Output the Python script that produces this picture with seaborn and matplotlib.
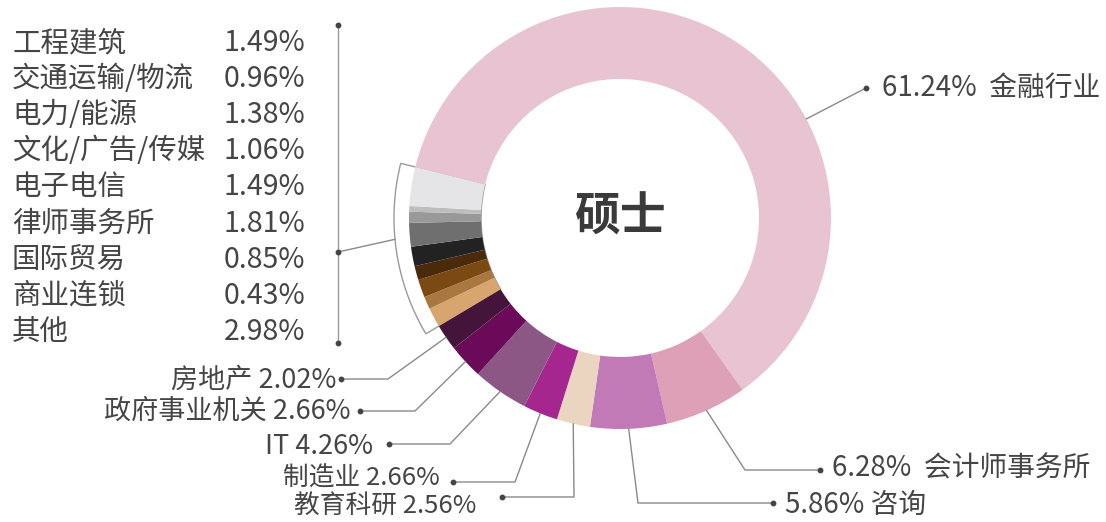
import numpy as np
import pandas as pd
import matplotlib
matplotlib.use("Agg")
import matplotlib.pyplot as plt
from matplotlib.patches import Wedge
import seaborn as sns

# ---------------- data ----------------
main_names = ["金融行业", "会计师事务所", "咨询", "教育科研", "制造业", "IT", "政府事业机关", "房地产"]
main_values = [61.24, 6.28, 5.86, 2.56, 2.66, 4.26, 2.66, 2.02]
main_colors = ["#E8C4D3", "#DDA0B6", "#C27AB7", "#E9D5C0", "#A5268F", "#8D5785", "#6A0A58", "#45143B"]

small_names = ["工程建筑", "交通运输/物流", "电力/能源", "文化/广告/传媒", "电子电信",
               "律师事务所", "国际贸易", "商业连锁", "其他"]
small_values = [1.49, 0.96, 1.38, 1.06, 1.49, 1.81, 0.85, 0.43, 2.98]
small_colors = ["#D6A66E", "#A87840", "#7A4A12", "#4A2A0B", "#232222",
                "#6F6F70", "#999999", "#BDBDBE", "#E5E5E7"]

center_title = "硕士"

df = pd.DataFrame({
    "name": main_names + small_names,
    "value": main_values + small_values,
    "color": main_colors + small_colors,
})

# ---------------- style ----------------
sns.set_theme(style="white")
plt.rcParams["font.family"] = ["Noto Sans CJK SC", "DejaVu Sans"]
TXT = "#454545"
LINE = "#8a8a8a"

W, H = 1106, 522
fig = plt.figure(figsize=(W / 100, H / 100), dpi=100)
ax = fig.add_axes([0, 0, 1, 1])

def Y(y):
    return H - y

CX, CY = 620, Y(218)
R_OUT, R_IN = 211, 139
START = 166

wedges, _ = ax.pie(df["value"], colors=df["color"], startangle=START, counterclock=False,
                   radius=R_OUT, center=(CX, CY),
                   wedgeprops=dict(width=R_OUT - R_IN, edgecolor="none", zorder=3))

# bracket around the small group
n_main = len(main_values)
t_lo = wedges[-1].theta1
t_hi = wedges[n_main].theta2
bracket = Wedge((CX, CY), 226, t_lo, t_hi, width=226 - R_IN, facecolor="white",
                edgecolor="#9a9a9a", lw=1.0, zorder=2)
ax.add_patch(bracket)

def anchor(i, ang=None, r=R_OUT):
    w = wedges[i]
    if ang is None:
        ang = (w.theta1 + w.theta2) / 2
    a = np.deg2rad(ang)
    return CX + r * np.cos(a), CY + r * np.sin(a)

dot_kw = dict(marker="o", ms=3.2, color="#444444", zorder=5)

# label layout: (elbow_x, y, dot_x, text_x, text_y, ha, size, text)
labels = {
    1: (745, 470, 820, 832, 468, "left", 20, f"{main_values[1]:.2f}%  {main_names[1]}"),
    2: (638, 503, 773, 785, 505, "left", 20, f"{main_values[2]:.2f}% {main_names[2]}"),
    3: (574, 497, 502, 476, 506, "right", 18.5, f"{main_names[3]} {main_values[3]:.2f}%"),
    4: (515, 482, 453, 440, 479, "right", 18.5, f"{main_names[4]} {main_values[4]:.2f}%"),
    5: (450, 444, 389, 373, 447, "right", 19.5, f"{main_names[5]} {main_values[5]:.2f}%"),
    6: (415, 411, 360, 350, 411, "right", 19.5, f"{main_names[6]} {main_values[6]:.2f}%"),
    7: (388, 379, 341, 336, 380, "right", 19.5, f"{main_names[7]} {main_values[7]:.2f}%"),
}
for i, (ex, ly, dx, tx, ty, ha, fs, s) in labels.items():
    ax0, ay0 = anchor(i)
    ax.plot([ax0, ex, dx], [ay0, Y(ly), Y(ly)], color=LINE, lw=1.0, zorder=4)
    ax.plot([dx], [Y(ly)], **dot_kw)
    ax.text(tx, Y(ty), s, ha=ha, va="center", fontsize=fs, color=TXT, zorder=5)

# main (finance) label
ax0, ay0 = anchor(0, ang=28)
ax.plot([ax0, 866], [ay0, Y(88)], color=LINE, lw=1.0, zorder=4)
ax.plot([866], [Y(88)], **dot_kw)
ax.text(882, Y(88), f"{main_values[0]:.2f}%  {main_names[0]}", ha="left", va="center",
        fontsize=20, color=TXT)

# legend list for small group
row_y0, row_step = 43, 36.1
for k, (nm, v) in enumerate(zip(small_names, small_values)):
    yy = Y(row_y0 + k * row_step)
    ax.text(12, yy, nm, ha="left", va="center", fontsize=20.5, color=TXT)
    ax.text(305, yy, f"{v:.2f}%", ha="right", va="center", fontsize=20.5, color=TXT)

ax.plot([338, 338], [Y(25), Y(343)], color="#9a9a9a", lw=1.0, zorder=4)
ax.plot([338, 338], [Y(25), Y(343)], ls="none", **dot_kw)
bx, by = anchor(n_main, ang=(t_lo + t_hi) / 2 - 3, r=226)
ax.plot([338, bx], [Y(252), by], color=LINE, lw=1.0, zorder=4)
ax.plot([338], [Y(252)], **dot_kw)

# center title
ax.text(CX, CY, center_title, ha="center", va="center", fontsize=33, fontweight="bold",
        color="#3a3a3a")

ax.set_xlim(0, W)
ax.set_ylim(0, H)
ax.set_aspect("equal")
ax.axis("off")

fig.savefig("out.png", dpi=100, facecolor="white")
